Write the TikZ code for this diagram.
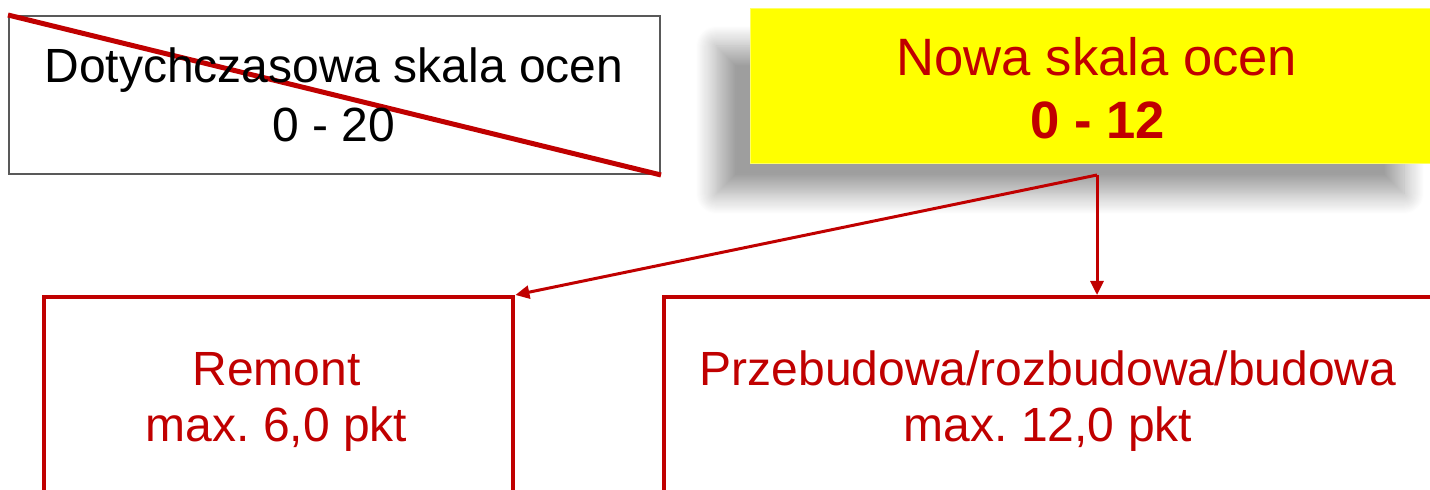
\documentclass[tikz,border=0pt]{standalone}
\usepackage{fontspec}
\setmainfont{Liberation Sans}
\frenchspacing
\usetikzlibrary{arrows.meta,shadows.blur}
\definecolor{dred}{HTML}{C00000}
\definecolor{oldgray}{HTML}{595959}
\definecolor{ylw}{HTML}{FFFF00}
\begin{document}
\begin{tikzpicture}[x=0.5pt,y=-0.5pt,
  box/.style={rectangle, inner sep=0pt, anchor=north west},
  oldbox/.style={box, draw=oldgray, line width=1pt, minimum width=325.5pt, minimum height=79pt},
  newbox/.style={box, fill=ylw, draw=ylw!60!white, line width=0.6pt, minimum width=360pt, minimum height=77.5pt},
  redbox/.style={box, draw=dred, line width=2.2pt, minimum height=150pt},
  txt/.style={anchor=base, inner sep=0pt, font=\fontsize{24}{28}\selectfont},
  redtxt/.style={txt, text=dred},
  bigtxt/.style={redtxt, font=\fontsize{26.3}{30}\selectfont},
  conn/.style={draw=dred, line width=1.5pt, -{Triangle[length=7pt,width=6.5pt]}}]
\useasboundingbox (0,0) rectangle (1430,490);
\clip (0,0) rectangle (1430,490);
% shadow of the yellow box
\path[blur shadow={shadow xshift=0pt, shadow yshift=0pt, shadow blur radius=10pt, shadow opacity=38, shadow blur steps=20}]
  (716,46) rectangle (1404,194);
% old scale box
\node[oldbox] (old) at (8,15) {};
\draw[dred, line width=2.5pt] (old.north west) -- (old.south east);
\node[txt] (oldt1) at (334,83) {Dotychczasowa skala ocen};
\node[txt] (oldt2) at (334,142) {0 - 20};
% new scale box
\node[newbox] (new) at (750,8) {};
\node[bigtxt] (newt1) at (1097,76) {Nowa skala ocen};
\node[bigtxt, font=\fontsize{26.3}{30}\selectfont\bfseries] (newt2) at (1098,139) {0 - 12};
% lower boxes
\node[redbox, minimum width=234.5pt] (rem) at (42,295) {};
\node[redbox, minimum width=390pt] (prz) at (662,295) {};
\node[redtxt] (remt1) at (276.5,386) {Remont};
\node[redtxt] (remt2) at (276.5,442) {max. 6,0 pkt};
\node[redtxt] (przt1) at (1048,386) {Przebudowa/rozbudowa/budowa};
\node[redtxt] (przt2) at (1048,442) {max. 12,0 pkt};
% connectors
\coordinate (j) at (1097,175);
\draw[conn] (j) -- (rem.north east);
\draw[conn] (j) -- (j |- prz.north);
\end{tikzpicture}
\end{document}
